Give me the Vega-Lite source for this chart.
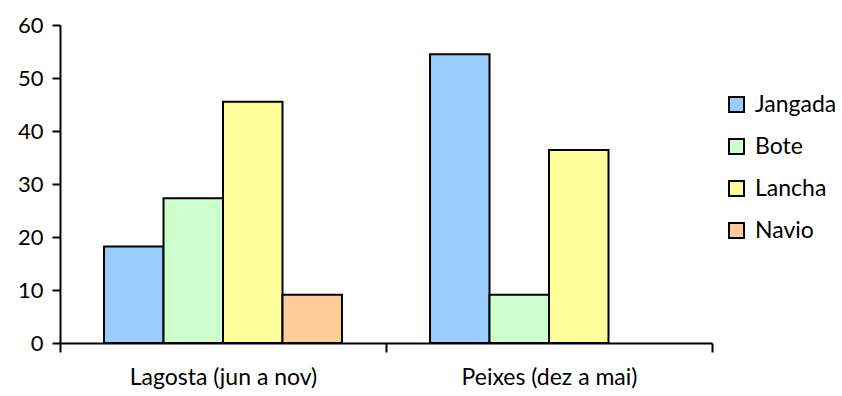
{
  "$schema": "https://vega.github.io/schema/vega-lite/v6.json",
  "autosize": "none",
  "width": 652,
  "height": 318,
  "padding": {"left": 60, "top": 25, "right": 130, "bottom": 53},
  "background": "white",
  "data": {
    "values": [
      {"periodo": "Lagosta (jun a nov)", "tipo": "Jangada", "valor": 18.2},
      {"periodo": "Lagosta (jun a nov)", "tipo": "Bote", "valor": 27.3},
      {"periodo": "Lagosta (jun a nov)", "tipo": "Lancha", "valor": 45.5},
      {"periodo": "Lagosta (jun a nov)", "tipo": "Navio", "valor": 9.1},
      {"periodo": "Peixes (dez a mai)", "tipo": "Jangada", "valor": 54.5},
      {"periodo": "Peixes (dez a mai)", "tipo": "Bote", "valor": 9.1},
      {"periodo": "Peixes (dez a mai)", "tipo": "Lancha", "valor": 36.4}
    ]
  },
  "mark": {"type": "bar", "stroke": "black", "strokeWidth": 2},
  "encoding": {
    "x": {
      "field": "periodo",
      "type": "nominal",
      "sort": null,
      "title": null,
      "scale": {"paddingInner": 0, "paddingOuter": 0},
      "axis": {
        "labelAngle": 0,
        "labelLimit": 400,
        "tickBand": "extent",
        "domainColor": "black",
        "domainWidth": 2,
        "tickColor": "black",
        "tickWidth": 2,
        "tickSize": 9,
        "labelFont": "Lato",
        "labelFontSize": 23,
        "labelColor": "black",
        "labelPadding": 14
      }
    },
    "xOffset": {
      "field": "tipo",
      "type": "nominal",
      "scale": {"domain": ["Jangada", "Bote", "Lancha", "Navio"], "paddingInner": 0, "paddingOuter": 0.74}
    },
    "y": {
      "field": "valor",
      "type": "quantitative",
      "title": null,
      "scale": {"domain": [0, 60], "nice": false},
      "axis": {
        "values": [0, 10, 20, 30, 40, 50, 60],
        "grid": false,
        "domainColor": "black",
        "domainWidth": 2,
        "tickColor": "black",
        "tickWidth": 2,
        "tickSize": 8,
        "labelFont": "Lato",
        "labelFontSize": 22,
        "labelColor": "black",
        "labelPadding": 9
      }
    },
    "color": {
      "field": "tipo",
      "type": "nominal",
      "title": null,
      "scale": {
        "domain": ["Jangada", "Bote", "Lancha", "Navio"],
        "range": ["#99CCFF", "#CCFFCC", "#FFFF99", "#FFCC99"]
      },
      "legend": {
        "orient": "none",
        "legendX": 665,
        "legendY": 68,
        "symbolType": "square",
        "symbolSize": 225,
        "symbolStrokeColor": "black",
        "symbolStrokeWidth": 2,
        "labelFont": "Lato",
        "labelFontSize": 23,
        "labelColor": "black",
        "labelOffset": 7,
        "rowPadding": 18
      }
    }
  },
  "config": {"view": {"stroke": null}}
}
